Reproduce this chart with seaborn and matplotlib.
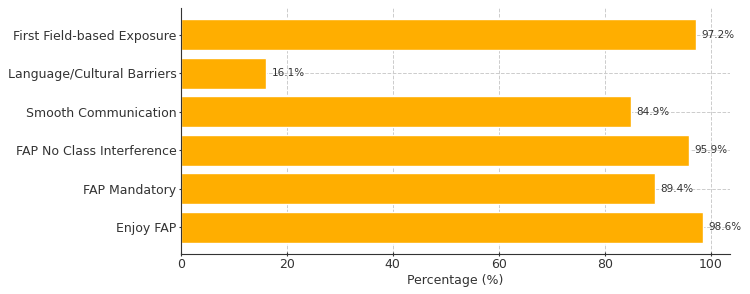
import matplotlib
matplotlib.use("Agg")
import matplotlib.pyplot as plt
import seaborn as sns
import pandas as pd

categories = ['First Field-based Exposure', 'Language/Cultural Barriers', 'Smooth Communication',
              'FAP No Class Interference', 'FAP Mandatory', 'Enjoy FAP']
percentages = [97.2, 16.1, 84.9, 95.9, 89.4, 98.6]

df = pd.DataFrame({'Category': categories, 'Percentage': percentages})

sns.set_style('white')
plt.rcParams['font.family'] = ['DejaVu Sans']
plt.rcParams['text.color'] = '#333333'
plt.rcParams['axes.labelcolor'] = '#333333'
plt.rcParams['xtick.color'] = '#333333'
plt.rcParams['ytick.color'] = '#333333'

fig, ax = plt.subplots(figsize=(7.5, 2.94), dpi=100)
sns.barplot(data=df, x='Percentage', y='Category', orient='h', color='#FFAE00',
            saturation=1, width=0.8, ax=ax)
ax.bar_label(ax.containers[0], fmt='%.1f%%', padding=4, fontsize=7.5, color='#333333')

ax.set_xlim(0, 103.6)
ax.set_ylim(5.69, -0.69)
ax.set_xticks([0, 20, 40, 60, 80, 100])
ax.set_xlabel('Percentage (%)', fontsize=9, labelpad=2)
ax.set_ylabel('')
ax.tick_params(axis='both', labelsize=9, length=3, direction='inout', pad=1.5,
               left=True, bottom=True)
ax.grid(True, linestyle='--', color='#cccccc', linewidth=0.7)
ax.set_axisbelow(True)
for s in ['top', 'right']:
    ax.spines[s].set_visible(False)
for s in ['left', 'bottom']:
    ax.spines[s].set_color('#333333')

plt.subplots_adjust(left=0.241, right=0.973, top=0.973, bottom=0.136)
plt.savefig('out.png', dpi=100)
